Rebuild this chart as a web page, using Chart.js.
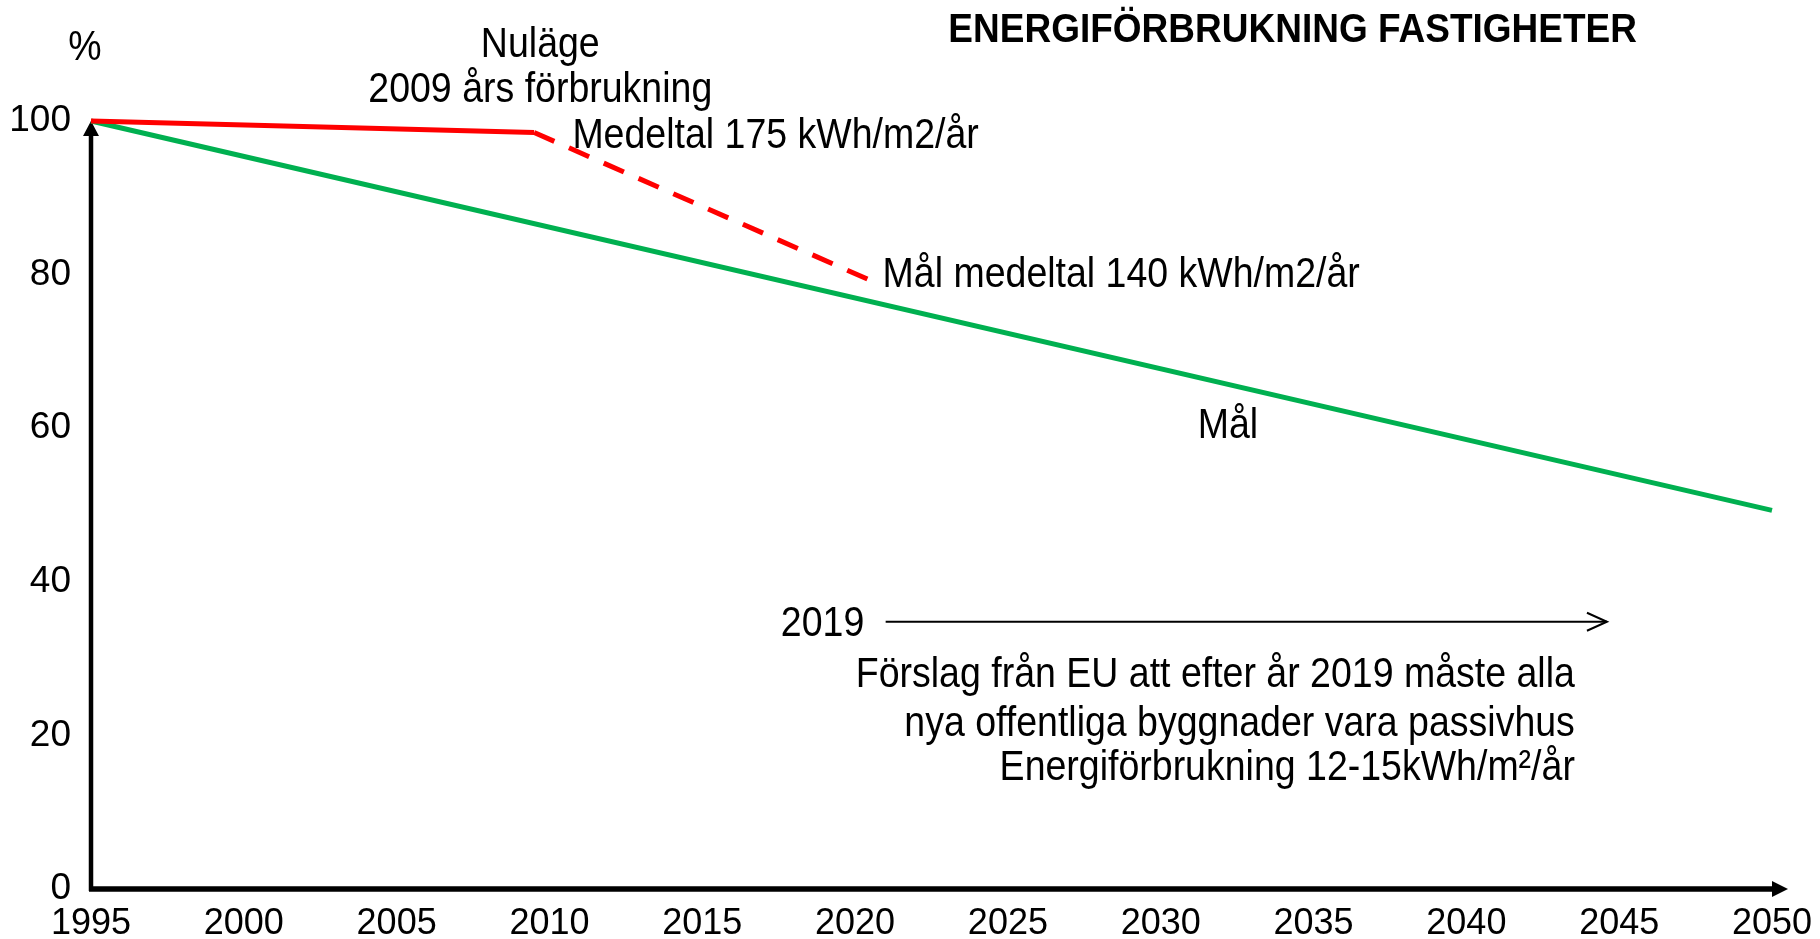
<!DOCTYPE html>
<html>
<head>
<meta charset="utf-8">
<script src="https://cdn.jsdelivr.net/npm/chart.js@4/dist/chart.umd.min.js"></script>
<style>
  html, body { margin: 0; padding: 0; background: #fff; }
  #wrap { width: 1820px; height: 939px; }
</style>
</head>
<body>
<div id="wrap"><canvas id="chart"></canvas></div>
<script>
// data (years, percent of 1995 level)
const actualYears = [1995, 2009.5];
const actualValues = [100, 98.5];
const forecastYears = [2009.5, 2020.7];
const forecastValues = [98.5, 78.9];
const targetYears = [1995, 2050];
const targetValues = [100, 49.3];
const proposalYears = [2021, 2044.6];
const proposalValues = [34.8, 34.8];

const yearTicks = [1995, 2000, 2005, 2010, 2015, 2020, 2025, 2030, 2035, 2040, 2045, 2050];
const percentTicks = [0, 20, 40, 60, 80, 100];

const chartTitle = 'ENERGIFÖRBRUKNING FASTIGHETER';
const noteTexts = ['%', 'Nuläge', '2009 års förbrukning', 'Medeltal 175 kWh/m2/år',
  'Mål medeltal 140 kWh/m2/år', 'Mål', '2019',
  'Förslag från EU att efter år 2019 måste alla',
  'nya offentliga byggnader vara passivhus',
  'Energiförbrukning 12-15kWh/m²/år'];
const noteYears = [1994.8, 2009.7, 2009.7, 2010.75, 2020.9, 2032.2, 2020.3, 2043.55, 2043.55, 2043.55];
const noteValues = [109.4, 109.9, 104.0, 98.0, 79.9, 60.2, 34.4, 27.8, 21.4, 15.7];
const noteAlign = ['center', 'center', 'center', 'left', 'left', 'center', 'right', 'right', 'right', 'right'];

const FONT = '"Liberation Sans", Arial, sans-serif';
const pts = (xs, ys) => xs.map((x, i) => ({ x: x, y: ys[i] }));

// the source text is a little taller than plain Arial
function tallText(ctx, text, x, y, stretch) {
  ctx.save();
  ctx.translate(x, y);
  ctx.scale(1, stretch);
  ctx.fillText(text, 0, 0);
  ctx.restore();
}

const axesPlugin = {
  id: 'arrowAxes',
  beforeDatasetsDraw(chart) {
    const { ctx, chartArea: a } = chart;
    ctx.save();
    ctx.fillStyle = '#000';
    ctx.strokeStyle = '#000';
    // y axis with arrow up
    ctx.lineWidth = 4.5;
    ctx.beginPath();
    ctx.moveTo(a.left, a.bottom + 2);
    ctx.lineTo(a.left, a.top + 12);
    ctx.stroke();
    ctx.beginPath();
    ctx.moveTo(a.left, a.top);
    ctx.lineTo(a.left - 8, a.top + 15);
    ctx.lineTo(a.left + 8, a.top + 15);
    ctx.closePath();
    ctx.fill();
    // x axis with arrow right
    ctx.lineWidth = 5.5;
    ctx.beginPath();
    ctx.moveTo(a.left - 2, a.bottom);
    ctx.lineTo(a.right + 4, a.bottom);
    ctx.stroke();
    ctx.beginPath();
    ctx.moveTo(a.right + 16, a.bottom);
    ctx.lineTo(a.right, a.bottom - 8);
    ctx.lineTo(a.right, a.bottom + 8);
    ctx.closePath();
    ctx.fill();
    ctx.restore();
  },
  afterDatasetsDraw(chart) {
    const { ctx, scales } = chart;
    ctx.save();
    // open arrow head on the 2019 line
    const last = chart.getDatasetMeta(3).data[1];
    ctx.strokeStyle = '#000';
    ctx.lineWidth = 2;
    ctx.beginPath();
    ctx.moveTo(last.x - 20, last.y - 9);
    ctx.lineTo(last.x, last.y);
    ctx.lineTo(last.x - 20, last.y + 9);
    ctx.stroke();

    ctx.fillStyle = '#000';
    ctx.textBaseline = 'middle';
    ctx.font = '37.5px ' + FONT;
    noteTexts.forEach((t, i) => {
      ctx.textAlign = noteAlign[i];
      tallText(ctx, t, scales.x.getPixelForValue(noteYears[i]), scales.y.getPixelForValue(noteValues[i]), 1.12);
    });
    ctx.font = 'bold 37px ' + FONT;
    ctx.textAlign = 'right';
    tallText(ctx, chartTitle, 1637, 31, 1.1);
    ctx.restore();
  }
};

new Chart(document.getElementById('chart'), {
  type: 'line',
  data: {
    datasets: [
      { data: pts(actualYears, actualValues), borderColor: '#FF0000', borderWidth: 5, clip: false, order: 1 },
      { data: pts(forecastYears, forecastValues), borderColor: '#FF0000', borderWidth: 5, borderDash: [22, 16], clip: false, order: 1 },
      { data: pts(targetYears, targetValues), borderColor: '#00B050', borderWidth: 5, clip: false, order: 2 },
      { data: pts(proposalYears, proposalValues), borderColor: '#000', borderWidth: 2, clip: false, order: 3 }
    ]
  },
  options: {
    responsive: true,
    maintainAspectRatio: false,
    animation: false,
    layout: { padding: { top: 121, right: 48, left: 0, bottom: 0 } },
    elements: { point: { radius: 0, hoverRadius: 0 }, line: { tension: 0, borderCapStyle: 'butt' } },
    plugins: { legend: { display: false }, tooltip: { enabled: false } },
    scales: {
      x: {
        type: 'linear',
        min: 1995,
        max: 2050,
        afterBuildTicks: s => { s.ticks = yearTicks.map(v => ({ value: v })); },
        afterFit: s => { s.height = 50; s.paddingLeft = 0; s.paddingRight = 0; },
        grid: { display: false, drawTicks: false },
        border: { display: false },
        ticks: { color: '#000', font: { family: FONT, size: 36 }, padding: 13, maxRotation: 0, autoSkip: false, callback: v => String(v) }
      },
      y: {
        min: 0,
        max: 100,
        afterBuildTicks: s => { s.ticks = percentTicks.map(v => ({ value: v })); },
        afterFit: s => { s.width = 91; },
        grid: { display: false, drawTicks: false },
        border: { display: false },
        ticks: { color: '#000', font: { family: FONT, size: 37 }, padding: 20 }
      }
    }
  },
  plugins: [axesPlugin]
});
</script>
</body>
</html>
